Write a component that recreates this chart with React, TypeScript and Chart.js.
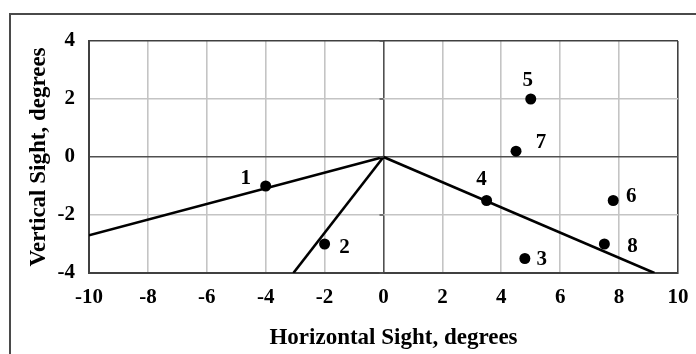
import { useEffect, useRef } from 'react';
import { Chart, registerables } from 'chart.js';

Chart.register(...registerables);

// Sight observations (degrees)
const pointNames = ['1', '2', '3', '4', '5', '6', '7', '8'];
const horizontalSight = [-4, -2, 4.8, 3.5, 5, 7.8, 4.5, 7.5];
const verticalSight = [-1, -3, -3.5, -1.5, 2, -1.5, 0.2, -3];

// Boundary rays drawn from the origin to these end points
const rayEndX = [-10, -3.06, 9.2];
const rayEndY = [-2.7, -4, -4];

// Axis ranges
const xRange = [-10, 10];
const yRange = [-4, 4];
const tickStep = 2;

const SERIF = '"Liberation Serif", "Times New Roman", serif';
const BORDER = '#404040';
const ZERO = '#505050';
const GRID = '#c4c4c4';

// Where each point's number sits relative to its marker (px)
const labelOffsets: [number, number][] = [
  [-20, -7], [20, 4], [17, 1], [-5, -21], [-3, -18], [18, -4], [25, -9], [28, 3],
];

const decorPlugin = {
  id: 'decor',
  beforeDraw(chart: Chart) {
    const { ctx, width, height } = chart;
    ctx.save();
    ctx.fillStyle = '#ffffff';
    ctx.fillRect(0, 0, width, height);
    // outer frame (top and left edges)
    ctx.strokeStyle = '#4a4a4a';
    ctx.lineWidth = 2;
    ctx.beginPath();
    ctx.moveTo(10, height);
    ctx.lineTo(10, 14);
    ctx.lineTo(width, 14);
    ctx.stroke();
    ctx.restore();
  },
  afterDatasetsDraw(chart: Chart) {
    const { ctx, chartArea, scales } = chart;
    const x = scales.x;
    const y = scales.y;
    ctx.save();
    // short tick marks on the vertical axis through the origin
    ctx.strokeStyle = ZERO;
    ctx.lineWidth = 1.5;
    const x0 = x.getPixelForValue(0);
    for (let v = yRange[0]; v <= yRange[1]; v += tickStep) {
      const py = y.getPixelForValue(v);
      ctx.beginPath();
      ctx.moveTo(x0 - 4, py);
      ctx.lineTo(x0, py);
      ctx.stroke();
    }
    // point numbers
    const meta = chart.getDatasetMeta(0);
    ctx.fillStyle = '#000';
    ctx.font = `bold 21px ${SERIF}`;
    ctx.textAlign = 'center';
    ctx.textBaseline = 'middle';
    meta.data.forEach((el: any, i: number) => {
      const [dx, dy] = labelOffsets[i];
      ctx.fillText(pointNames[i], el.x + dx, el.y + dy);
    });
    // horizontal axis title
    ctx.font = `bold 23px ${SERIF}`;
    ctx.fillText('Horizontal Sight, degrees', (chartArea.left + chartArea.right) / 2 + 10, 338);
    ctx.restore();
  },
};

const gridColor = (range: number[]) => (c: any) => {
  const v = c.tick ? c.tick.value : null;
  if (v === 0) return ZERO;
  if (v === range[0] || v === range[1]) return BORDER;
  return GRID;
};

export default function App() {
  const ref = useRef<HTMLCanvasElement | null>(null);

  useEffect(() => {
    if (!ref.current) return;
    const points = horizontalSight.map((x, i) => ({ x, y: verticalSight[i] }));
    const rays = rayEndX.map((ex, i) => ({
      type: 'line' as const,
      data: [{ x: 0, y: 0 }, { x: ex, y: rayEndY[i] }],
      borderColor: '#000',
      borderWidth: 2.6,
      pointRadius: 0,
      showLine: true,
      order: 2,
    }));

    const tickFont = { family: SERIF, weight: 'bold' as const, size: 21 };

    const chart = new Chart(ref.current, {
      type: 'scatter',
      data: {
        datasets: [
          {
            data: points,
            backgroundColor: '#000',
            borderColor: '#000',
            pointRadius: 5.5,
            pointBorderWidth: 0,
            order: 1,
          } as any,
          ...rays,
        ],
      },
      options: {
        responsive: false,
        animation: false,
        layout: { padding: { top: 41, right: 18, left: 0, bottom: 0 } },
        plugins: { legend: { display: false }, tooltip: { enabled: false } },
        scales: {
          x: {
            type: 'linear',
            min: xRange[0],
            max: xRange[1],
            ticks: { stepSize: tickStep, color: '#000', font: tickFont, padding: 12, maxRotation: 0 },
            grid: { color: gridColor(xRange), lineWidth: 1.6, drawTicks: false },
            border: { display: true, color: BORDER, width: 2 },
            afterFit: (s: any) => {
              s.height = 81;
              s.paddingLeft = 0;
              s.paddingRight = 0;
            },
          },
          y: {
            type: 'linear',
            min: yRange[0],
            max: yRange[1],
            ticks: { stepSize: tickStep, color: '#000', font: tickFont, padding: 14 },
            grid: { color: gridColor(yRange), lineWidth: 1.6, drawTicks: false },
            border: { display: true, color: BORDER, width: 2 },
            title: {
              display: true,
              text: 'Vertical Sight, degrees',
              color: '#000',
              font: { family: SERIF, weight: 'bold', size: 23 },
              padding: { top: 25, bottom: 0 },
            },
            afterFit: (s: any) => {
              s.width = 89;
              s.paddingTop = 0;
              s.paddingBottom = 0;
            },
          },
        },
      },
      plugins: [decorPlugin],
    });
    return () => chart.destroy();
  }, []);

  return (
    <div style={{ position: 'absolute', left: 0, top: 0, width: 696, height: 354 }}>
      <canvas ref={ref} width={696} height={354} style={{ display: 'block' }} />
    </div>
  );
}
